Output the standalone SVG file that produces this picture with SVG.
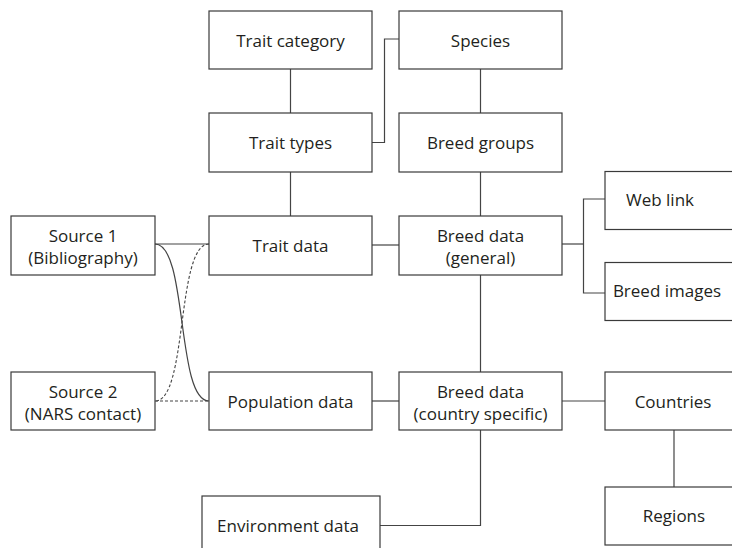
<svg xmlns="http://www.w3.org/2000/svg" width="732" height="548" viewBox="0 0 732 548">
<style>
.box{fill:#fff;stroke:#3a3a3a;stroke-width:1.2}
.t{font-family:"Open Sans","Noto Sans",sans-serif;font-size:17px;fill:#231f20;text-anchor:middle}
.c{fill:none;stroke:#444;stroke-width:1.2}
.d{fill:none;stroke:#444;stroke-width:1.1;stroke-dasharray:3 2}
</style>
<rect width="732" height="548" fill="#fff"/>
<g id="connectors">
<line class="c" x1="290.5" y1="69" x2="290.5" y2="113"/>
<line class="c" x1="290.5" y1="172" x2="290.5" y2="216"/>
<line class="c" x1="480.5" y1="69" x2="480.5" y2="113"/>
<line class="c" x1="480.5" y1="172" x2="480.5" y2="216"/>
<line class="c" x1="480.5" y1="275" x2="480.5" y2="372"/>
<polyline class="c" points="372,142.5 384.5,142.5 384.5,39 399,39"/>
<line class="c" x1="372" y1="245" x2="399" y2="245"/>
<line class="c" x1="372" y1="401" x2="399" y2="401"/>
<line class="c" x1="562" y1="401" x2="605" y2="401"/>
<polyline class="c" points="562,244 583.5,244"/>
<polyline class="c" points="605,199 583.5,199 583.5,293 605,293"/>
<line class="c" x1="674" y1="430" x2="674" y2="487"/>
<polyline class="c" points="480.5,430 480.5,525.5 380,525.5"/>
<line class="c" x1="155" y1="244" x2="209" y2="244"/>
<path class="c" d="M155,244 C188,244 176,401 209,401"/>
<path class="d" d="M209,244 C176,244 188,401 155,401"/>
<line class="d" x1="155" y1="401" x2="209" y2="401"/>
</g>
<g id="trait-category"><rect class="box" x="209" y="11" width="163" height="58"/><text class="t" x="290.5" y="46.5">Trait category</text></g>
<g id="species"><rect class="box" x="399" y="11" width="163" height="58"/><text class="t" x="480.5" y="46.5">Species</text></g>
<g id="trait-types"><rect class="box" x="209" y="113" width="163" height="59"/><text class="t" x="290.5" y="149">Trait types</text></g>
<g id="breed-groups"><rect class="box" x="399" y="113" width="163" height="59"/><text class="t" x="480.5" y="149">Breed groups</text></g>
<g id="source-1"><rect class="box" x="11" y="216" width="144" height="59"/><text class="t" x="83" y="241.5">Source 1</text><text class="t" x="83" y="263.5">(Bibliography)</text></g>
<g id="trait-data"><rect class="box" x="209" y="216" width="163" height="59"/><text class="t" x="290.5" y="252">Trait data</text></g>
<g id="breed-data-general"><rect class="box" x="399" y="216" width="163" height="59"/><text class="t" x="480.5" y="241.5">Breed data</text><text class="t" x="480.5" y="263.5">(general)</text></g>
<g id="web-link"><rect class="box" x="605" y="171.5" width="163" height="58"/><text class="t" x="660" y="206">Web link</text></g>
<g id="breed-images"><rect class="box" x="605" y="262.5" width="163" height="58"/><text class="t" x="667" y="297">Breed images</text></g>
<g id="source-2"><rect class="box" x="11" y="372" width="144" height="58"/><text class="t" x="83" y="397.5">Source 2</text><text class="t" x="83" y="419.5">(NARS contact)</text></g>
<g id="population-data"><rect class="box" x="209" y="372" width="163" height="58"/><text class="t" x="290.5" y="407.5">Population data</text></g>
<g id="breed-data-country"><rect class="box" x="399" y="372" width="163" height="58"/><text class="t" x="480.5" y="397.5">Breed data</text><text class="t" x="480.5" y="419.5">(country specific)</text></g>
<g id="countries"><rect class="box" x="605" y="372" width="163" height="58"/><text class="t" x="673" y="407.5">Countries</text></g>
<g id="regions"><rect class="box" x="605" y="487" width="163" height="58"/><text class="t" x="674" y="522">Regions</text></g>
<g id="environment-data"><rect class="box" x="202" y="496" width="178" height="60"/><text class="t" x="288" y="531.5">Environment data</text></g>
</svg>
